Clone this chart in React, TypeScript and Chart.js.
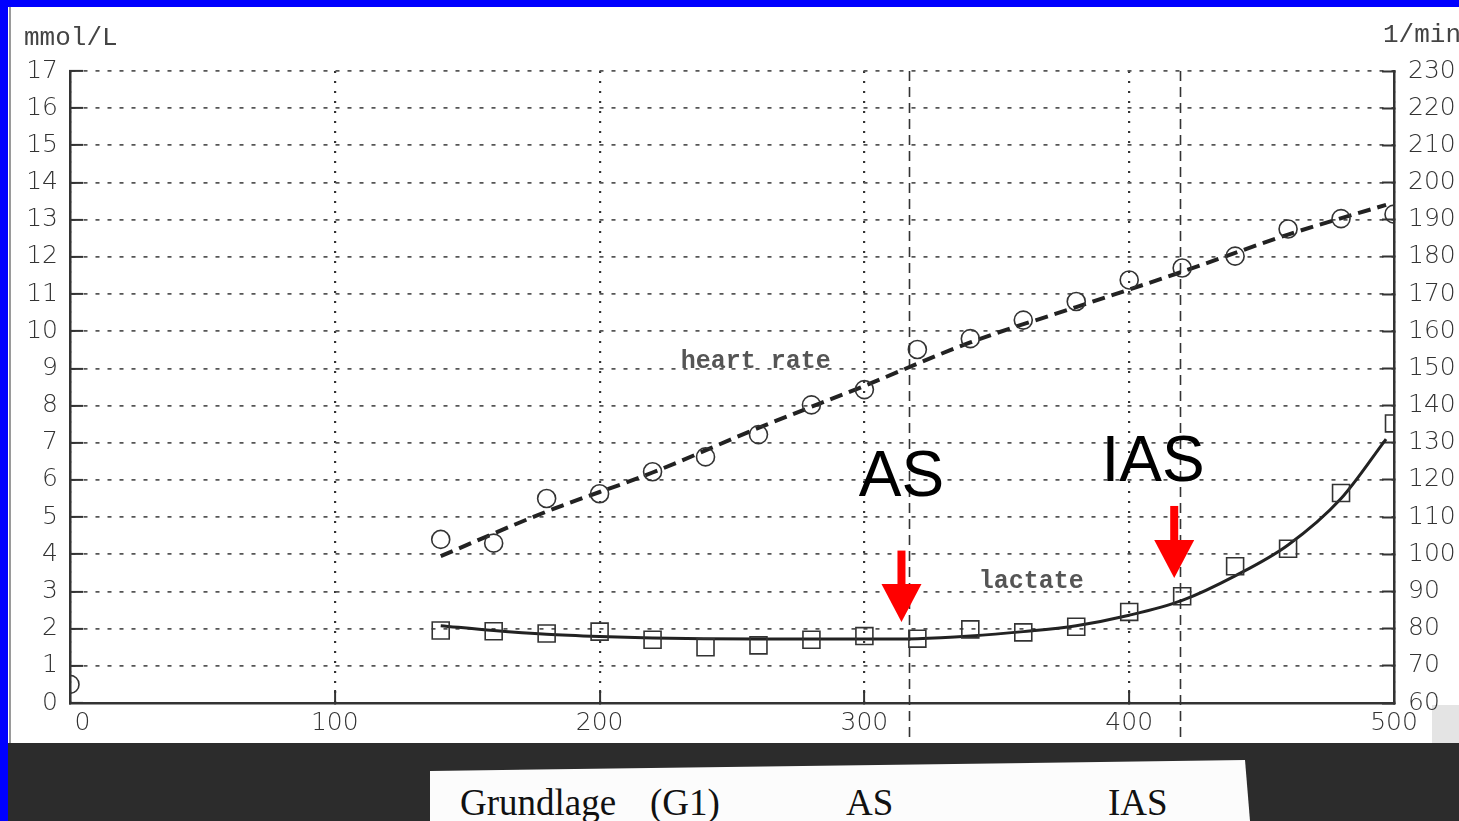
import React, { useEffect, useRef } from 'react';
import { Chart, registerables } from 'chart.js';

Chart.register(...registerables);

// ---- data (x = power in W) ----
const hrWatts = [0, 140, 160, 180, 200, 220, 240, 260, 280, 300, 320, 340, 360, 380, 400, 420, 440, 460, 480, 500];
const hrValues = [65, 104, 103, 115, 116.3, 122.2, 126.2, 132.2, 140.2, 144.3, 155.1, 158, 163, 168, 173.8, 177, 180.2, 187.5, 190.3, 191.5];

const hrFitWatts = [140, 180, 220, 260, 300, 340, 380, 420, 460, 497];
const hrFitValues = [99.5, 111.5, 122, 134, 145.3, 157, 166.5, 176, 186, 194];

const lacWatts = [140, 160, 180, 200, 220, 240, 260, 280, 300, 320, 340, 360, 380, 400, 420, 440, 460, 480, 500];
const lacValues = [1.95, 1.93, 1.87, 1.92, 1.7, 1.5, 1.55, 1.7, 1.8, 1.73, 1.98, 1.9, 2.05, 2.45, 2.87, 3.68, 4.15, 5.65, 7.52];

const lacFitWatts = [140, 160, 180, 200, 220, 240, 260, 280, 300, 320, 340, 360, 380, 400, 420, 440, 460, 480, 497];
const lacFitValues = [2.08, 1.95, 1.85, 1.79, 1.75, 1.73, 1.72, 1.72, 1.72, 1.73, 1.8, 1.92, 2.08, 2.36, 2.76, 3.42, 4.25, 5.5, 7.1];

// thresholds
const thresholdNames = ['AS', 'IAS'];
const thresholdWatts = [317, 419];

// axis ranges / ticks
const xRange = [0, 500, 100];
const lacRange = [0, 17, 1];
const hrRange = [60, 230, 10];
const leftUnit = 'mmol/L';
const rightUnit = '1/min';
const curveLabels = ['heart rate', 'lactate'];
const footerLabels = ['Grundlage', '(G1)', 'AS', 'IAS'];

// annotation placement (in data units)
const curveLabelPos = [[259, 9.17], [363, 3.25]];
const bigLabelPos = [[314, 6.05], [409, 6.45]];
const arrowPos = [[314, 4.1, 2.18], [417, 5.3, 3.36]];

const TICK_FONT = { family: 'DejaVu Sans', size: 25, weight: '200' as any };

const pts = (xs: number[], ys: number[]) => xs.map((x, i) => ({ x, y: ys[i] }));

const overlay = {
  id: 'overlay',
  beforeDatasetsDraw(chart: any) {
    const { ctx, chartArea, scales } = chart;
    const x = scales.x;
    ctx.save();
    ctx.strokeStyle = '#333';
    ctx.lineWidth = 1.6;
    ctx.setLineDash([10, 6]);
    thresholdWatts.forEach((w) => {
      const px = Math.round(x.getPixelForValue(w)) + 0.5;
      ctx.beginPath();
      ctx.moveTo(px, chartArea.top);
      ctx.lineTo(px, chart.height - 2);
      ctx.stroke();
    });
    ctx.restore();
  },
  afterDraw(chart: any) {
    const { ctx, scales } = chart;
    const x = scales.x;
    const y = scales.y;
    ctx.save();
    // units
    ctx.fillStyle = '#444';
    ctx.font = '26px "Liberation Mono"';
    ctx.textBaseline = 'middle';
    ctx.textAlign = 'left';
    ctx.fillText(leftUnit, 24, 38);
    ctx.fillText(rightUnit, 1383, 35);
    // curve labels
    ctx.textAlign = 'center';
    ctx.fillStyle = '#555';
    ctx.font = 'bold 25px "Liberation Mono"';
    curveLabels.forEach((t, i) => {
      ctx.fillText(t, x.getPixelForValue(curveLabelPos[i][0]), y.getPixelForValue(curveLabelPos[i][1]));
    });
    // big labels
    ctx.fillStyle = '#000';
    ctx.font = '64px "Liberation Sans"';
    thresholdNames.forEach((t, i) => {
      ctx.fillText(t, x.getPixelForValue(bigLabelPos[i][0]), y.getPixelForValue(bigLabelPos[i][1]));
    });
    // arrows
    ctx.fillStyle = '#ff0000';
    arrowPos.forEach(([w, top, tip]) => {
      const px = x.getPixelForValue(w);
      const yt = y.getPixelForValue(top);
      const yb = y.getPixelForValue(tip);
      const headH = 38;
      const headW = 40;
      const shaft = 8;
      ctx.fillRect(px - shaft / 2, yt, shaft, yb - yt - headH + 2);
      ctx.beginPath();
      ctx.moveTo(px - headW / 2, yb - headH);
      ctx.lineTo(px + headW / 2, yb - headH);
      ctx.lineTo(px, yb);
      ctx.closePath();
      ctx.fill();
    });
    ctx.restore();
  },
};

export default function App() {
  const ref = useRef<HTMLCanvasElement>(null);

  useEffect(() => {
    document.body.style.margin = '0';
    const canvas = ref.current!;
    const chart = new Chart(canvas, {
      type: 'scatter',
      data: {
        datasets: [
          {
            label: 'heart rate',
            data: pts(hrWatts, hrValues),
            yAxisID: 'y2',
            pointStyle: 'circle',
            pointRadius: 9,
            pointBorderWidth: 1.6,
            borderColor: '#333',
            backgroundColor: 'rgba(0,0,0,0)',
            clip: 0,
          },
          {
            label: 'heart rate fit',
            data: pts(hrFitWatts, hrFitValues),
            yAxisID: 'y2',
            showLine: true,
            pointRadius: 0,
            borderColor: '#222',
            borderWidth: 4,
            borderDash: [13, 7],
            cubicInterpolationMode: 'monotone',
            clip: 0,
          },
          {
            label: 'lactate',
            data: pts(lacWatts, lacValues),
            yAxisID: 'y',
            pointStyle: 'rect',
            pointRadius: 12,
            pointBorderWidth: 1.6,
            borderColor: '#333',
            backgroundColor: 'rgba(0,0,0,0)',
            clip: 0,
          },
          {
            label: 'lactate fit',
            data: pts(lacFitWatts, lacFitValues),
            yAxisID: 'y',
            showLine: true,
            pointRadius: 0,
            borderColor: '#222',
            borderWidth: 3,
            cubicInterpolationMode: 'monotone',
            clip: 0,
          },
        ],
      },
      options: {
        animation: false,
        responsive: false,
        devicePixelRatio: 1,
        layout: { padding: { top: 71, left: 0, right: 0, bottom: 0 } },
        plugins: { legend: { display: false }, tooltip: { enabled: false } },
        scales: {
          x: {
            type: 'linear',
            min: xRange[0],
            max: xRange[1],
            afterFit: (s: any) => { s.height = 42; },
            ticks: {
              stepSize: xRange[2],
              font: TICK_FONT,
              color: '#333',
              padding: 18,
              callback: (v: any) => (v === 0 ? '\u20030' : String(v)),
            },
            grid: {
              color: '#333',
              lineWidth: 2.2,
              tickLength: -13,
              tickColor: '#333',
              tickWidth: 2,
              tickBorderDash: [],
            } as any,
            border: { display: true, color: '#333', width: 2.5, dash: [2, 8] },
          },
          y: {
            type: 'linear',
            position: 'left',
            min: lacRange[0],
            max: lacRange[1],
            afterFit: (s: any) => { s.width = 70; },
            ticks: { stepSize: lacRange[2], font: TICK_FONT, color: '#333', padding: 25 },
            grid: {
              color: '#555',
              lineWidth: 1.8,
              tickLength: -13,
              tickColor: '#333',
              tickWidth: 2,
              tickBorderDash: [],
            } as any,
            border: { display: true, color: '#333', width: 2.5, dash: [4, 8] },
          },
          y2: {
            type: 'linear',
            position: 'right',
            min: hrRange[0],
            max: hrRange[1],
            afterFit: (s: any) => { s.width = 65; },
            ticks: { stepSize: hrRange[2], font: TICK_FONT, color: '#333', padding: 26 },
            grid: {
              drawOnChartArea: false,
              tickLength: -12,
              tickColor: '#333',
              tickWidth: 2,
              tickBorderDash: [],
            } as any,
            border: { display: true, color: '#333', width: 2.5 },
          },
        },
      },
      plugins: [overlay],
    } as any);
    return () => chart.destroy();
  }, []);

  const serif: React.CSSProperties = {
    position: 'absolute',
    fontFamily: '"Liberation Serif", serif',
    fontSize: 37,
    lineHeight: '37px',
    color: '#111',
    top: 784,
    whiteSpace: 'nowrap',
  };

  return (
    <div style={{ position: 'fixed', left: 0, top: 0, width: 1459, height: 821, overflow: 'hidden', background: '#fff' }}>
      <div style={{ position: 'absolute', left: 1432, top: 705, width: 27, height: 40, background: '#e4e4e4' }} />
      <canvas ref={ref} width={1459} height={745} style={{ position: 'absolute', left: 0, top: 0, width: 1459, height: 745 }} />
      <div style={{ position: 'absolute', left: 8, top: 743, width: 1451, height: 78, background: '#2c2c2c' }} />
      <div
        style={{
          position: 'absolute',
          left: 430,
          top: 760,
          width: 820,
          height: 61,
          background: '#fcfcfc',
          clipPath: 'polygon(0px 11px, 815px 0px, 820px 61px, 0px 61px)',
        }}
      />
      <span style={{ ...serif, left: 460 }}>{footerLabels[0]}</span>
      <span style={{ ...serif, left: 650 }}>{footerLabels[1]}</span>
      <span style={{ ...serif, left: 846 }}>{footerLabels[2]}</span>
      <span style={{ ...serif, left: 1108 }}>{footerLabels[3]}</span>
      <div style={{ position: 'absolute', left: 9, top: 7, width: 2, height: 736, background: '#9a9a9a' }} />
      <div style={{ position: 'absolute', left: 0, top: 0, width: 1459, height: 7, background: '#0000ff' }} />
      <div style={{ position: 'absolute', left: 0, top: 0, width: 8, height: 821, background: '#0000ff' }} />
    </div>
  );
}
